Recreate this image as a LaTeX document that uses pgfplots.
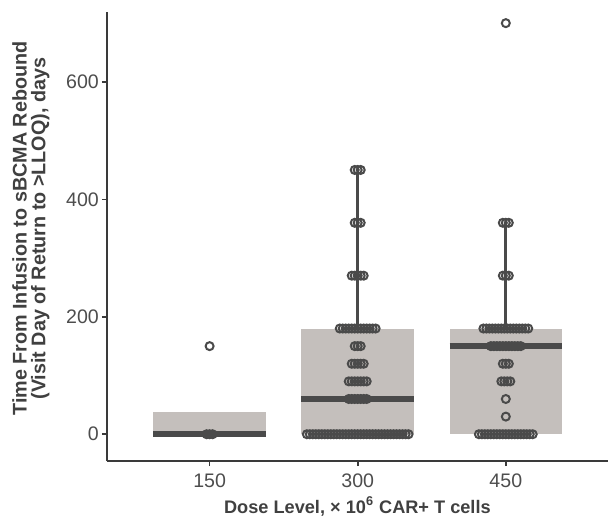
\documentclass[border=0pt]{standalone}
\usepackage{fontspec}
\setmainfont{Liberation Sans}
\usepackage{pgfplots}
\usepackage{pgfplotstable}
\pgfplotsset{compat=1.18}

\definecolor{boxfill}{HTML}{C4BFBC}
\definecolor{ink}{HTML}{4A4A4A}
\definecolor{axisc}{HTML}{3A3A3A}
\definecolor{txt}{HTML}{4D4D4D}
\definecolor{lab}{HTML}{404040}

% dots: g = dose group, y = days, k = stack offset within a row
\pgfplotstableread{
g y k
1 0 -1
1 0 0
1 0 1
1 150 0
2 0 -17
2 0 -16
2 0 -15
2 0 -14
2 0 -13
2 0 -12
2 0 -11
2 0 -10
2 0 -9
2 0 -8
2 0 -7
2 0 -6
2 0 -5
2 0 -4
2 0 -3
2 0 -2
2 0 -1
2 0 0
2 0 1
2 0 2
2 0 3
2 0 4
2 0 5
2 0 6
2 0 7
2 0 8
2 0 9
2 0 10
2 0 11
2 0 12
2 0 13
2 0 14
2 0 15
2 0 16
2 0 17
2 60 -3
2 60 -2
2 60 -1
2 60 0
2 60 1
2 60 2
2 60 3
2 90 -3
2 90 -2
2 90 -1
2 90 0
2 90 1
2 90 2
2 90 3
2 120 -2
2 120 -1
2 120 0
2 120 1
2 120 2
2 150 -1
2 150 0
2 150 1
2 180 -6
2 180 -5
2 180 -4
2 180 -3
2 180 -2
2 180 -1
2 180 0
2 180 1
2 180 2
2 180 3
2 180 4
2 180 5
2 180 6
2 270 -2
2 270 -1
2 270 0
2 270 1
2 270 2
2 360 -1
2 360 0
2 360 1
2 450 -1
2 450 0
2 450 1
3 0 -9
3 0 -8
3 0 -7
3 0 -6
3 0 -5
3 0 -4
3 0 -3
3 0 -2
3 0 -1
3 0 0
3 0 1
3 0 2
3 0 3
3 0 4
3 0 5
3 0 6
3 0 7
3 0 8
3 0 9
3 30 0
3 60 0
3 90 -1.5
3 90 -0.5
3 90 0.5
3 90 1.5
3 120 -1
3 120 0
3 120 1
3 150 -5
3 150 -4
3 150 -3
3 150 -2
3 150 -1
3 150 0
3 150 1
3 150 2
3 150 3
3 150 4
3 150 5
3 180 -7.5
3 180 -6.5
3 180 -5.5
3 180 -4.5
3 180 -3.5
3 180 -2.5
3 180 -1.5
3 180 -0.5
3 180 0.5
3 180 1.5
3 180 2.5
3 180 3.5
3 180 4.5
3 180 5.5
3 180 6.5
3 180 7.5
3 270 -1
3 270 0
3 270 1
3 360 -1
3 360 0
3 360 1
3 700 0
}\dotdata

\begin{document}
\begin{tikzpicture}
\begin{axis}[
  scale only axis, width=251pt, height=225pt,
  xmin=0.306, xmax=3.69, ymin=-46, ymax=719,
  axis x line*=bottom, axis y line*=left,
  axis line style={-, axisc, line width=1pt},
  xtick={1,2,3}, xticklabels={150,300,450},
  ytick={0,200,400,600},
  tick align=outside, major tick length=2.5pt,
  tick style={axisc, line width=0.8pt},
  tick label style={font=\fontsize{9.8}{11}\selectfont, text=txt},
  yticklabel style={xshift=2pt},
  xticklabel style={yshift=-0.5pt},
  /pgf/number format/assume math mode=true,
  xlabel={Dose Level, × 10\textsuperscript{6} CAR+ T cells},
  ylabel={Time From Infusion to sBCMA Rebound\\(Visit Day of Return to >LLOQ), days},
  xlabel style={font=\bfseries\fontsize{9.1}{10}\selectfont, text=lab, yshift=2.5pt},
  ylabel style={align=center, font=\bfseries\fontsize{9.9}{9.3}\selectfont, text=lab, yshift=1.5pt, xshift=4pt},
  clip=false,
]
% boxes (Q1 to Q3)
\addplot[fill=boxfill, draw=none] coordinates {(0.62,0) (1.38,0) (1.38,37.5) (0.62,37.5)};
\addplot[fill=boxfill, draw=none] coordinates {(1.62,0) (2.38,0) (2.38,180) (1.62,180)};
\addplot[fill=boxfill, draw=none] coordinates {(2.62,0) (3.38,0) (3.38,180) (2.62,180)};
% whiskers
\addplot[ink, line width=1.6pt] coordinates {(2,180) (2,447)};
\addplot[ink, line width=1.6pt] coordinates {(3,180) (3,358)};
% medians
\addplot[ink, line width=2.8pt] coordinates {(0.62,0) (1.38,0)};
\addplot[ink, line width=2.8pt] coordinates {(1.62,60) (2.38,60)};
\addplot[ink, line width=2.8pt] coordinates {(2.62,150) (3.38,150)};
% individual patients
\addplot[only marks, mark=o, mark size=2pt, ink, mark options={line width=1pt}]
  table[x expr=\thisrow{g}+0.0202*\thisrow{k}, y=y]{\dotdata};
\coordinate (bl) at (rel axis cs:0,0);
\coordinate (tr) at (rel axis cs:1,1);
\end{axis}
\path ([xshift=-53.5pt,yshift=-30pt]bl) rectangle ([yshift=6pt]tr);
\end{tikzpicture}
\end{document}
